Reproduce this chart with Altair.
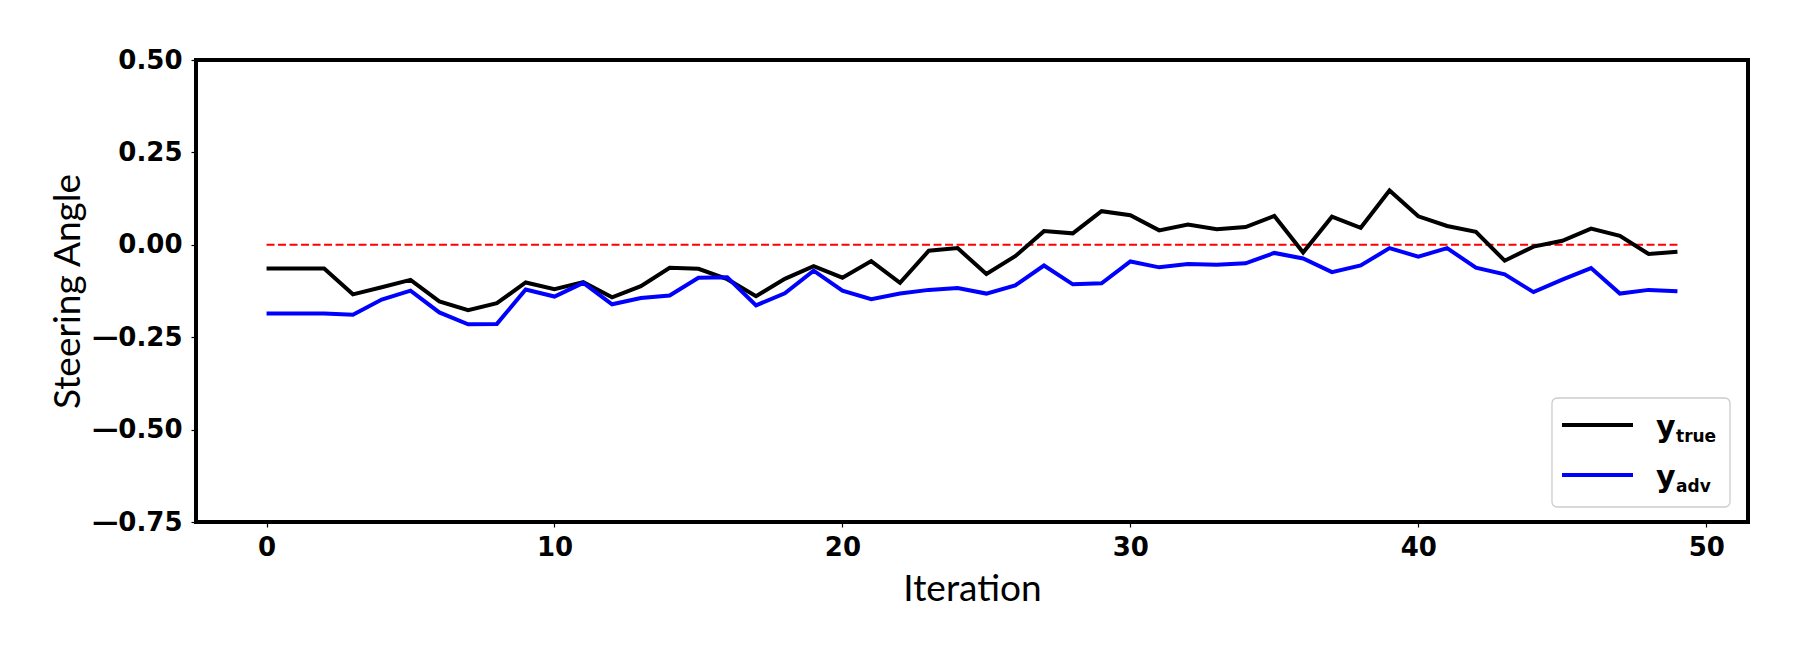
import altair as alt
import pandas as pd

# ---- data ----
iterations = list(range(50))
y_true = [-0.064, -0.064, -0.064, -0.134, -0.115, -0.095, -0.153, -0.177, -0.158, -0.102,
          -0.120, -0.101, -0.142, -0.112, -0.062, -0.065, -0.093, -0.139, -0.092, -0.058,
          -0.089, -0.044, -0.103, -0.016, -0.009, -0.079, -0.031, 0.037, 0.031, 0.091,
          0.080, 0.039, 0.055, 0.042, 0.048, 0.078, -0.021, 0.076, 0.046, 0.147,
          0.077, 0.051, 0.035, -0.043, -0.005, 0.011, 0.044, 0.024, -0.025, -0.019]
y_adv = [-0.186, -0.186, -0.186, -0.189, -0.148, -0.124, -0.183, -0.215, -0.214, -0.121,
         -0.140, -0.103, -0.161, -0.144, -0.137, -0.089, -0.088, -0.164, -0.131, -0.070,
         -0.124, -0.147, -0.132, -0.122, -0.117, -0.132, -0.110, -0.056, -0.107, -0.104,
         -0.045, -0.061, -0.052, -0.054, -0.050, -0.022, -0.037, -0.074, -0.056, -0.009,
         -0.032, -0.009, -0.062, -0.080, -0.128, -0.094, -0.063, -0.132, -0.122, -0.126]
zero_x = [0, 49]
zero_y = [0.0, 0.0]

x_ticks = [0, 10, 20, 30, 40, 50]
y_ticks = [-0.75, -0.5, -0.25, 0.0, 0.25, 0.5]

legend_main = ["y", "y"]
legend_sub = ["true", "adv"]
series_colors = ["black", "blue"]

W, H = 1552, 462

df_true = pd.DataFrame({"Iteration": iterations, "Steering Angle": y_true})
df_adv = pd.DataFrame({"Iteration": iterations, "Steering Angle": y_adv})
df_zero = pd.DataFrame({"Iteration": zero_x, "Steering Angle": zero_y})

xscale = alt.Scale(domain=[-2.45, 51.45], nice=False, zero=False)
yscale = alt.Scale(domain=[-0.75, 0.5], nice=False, zero=False)

label_font = "DejaVu Sans"
title_font = "Lato"

x_axis = alt.Axis(values=x_ticks, format="d", grid=False, domain=False,
                  tickColor="black", tickWidth=1.2, tickSize=5,
                  labelFont=label_font, labelFontSize=26, labelFontWeight="bold",
                  labelColor="black", labelPadding=7,
                  title="Iteration", titleFont=title_font, titleFontSize=37,
                  titleFontWeight="normal", titleColor="black",
                  titleX=W / 2, titleY=78, titleBaseline="alphabetic", titleAlign="center")
y_axis = alt.Axis(values=y_ticks, grid=False, domain=False,
                  tickColor="black", tickWidth=1.2, tickSize=5,
                  labelExpr="datum.value < 0 ? '\u2014' + format(abs(datum.value), '.2f') : format(datum.value, '.2f')",
                  labelFont=label_font, labelFontSize=26, labelFontWeight="bold",
                  labelColor="black", labelPadding=9,
                  title="Steering Angle", titleFont=title_font, titleFontSize=37,
                  titleFontWeight="normal", titleColor="black",
                  titleX=-117, titleY=H / 2, titleBaseline="alphabetic", titleAlign="center",
                  titleAngle=270)

zero_line = alt.Chart(df_zero).mark_line(color="red", strokeWidth=2, strokeDash=[8, 3.5]).encode(
    x=alt.X("Iteration:Q", scale=xscale, axis=x_axis),
    y=alt.Y("Steering Angle:Q", scale=yscale, axis=y_axis),
)
line_true = alt.Chart(df_true).mark_line(color=series_colors[0], strokeWidth=4, strokeJoin="miter").encode(
    x=alt.X("Iteration:Q", scale=xscale),
    y=alt.Y("Steering Angle:Q", scale=yscale),
)
line_adv = alt.Chart(df_adv).mark_line(color=series_colors[1], strokeWidth=4, strokeJoin="miter").encode(
    x=alt.X("Iteration:Q", scale=xscale),
    y=alt.Y("Steering Angle:Q", scale=yscale),
)

# ---- legend (bottom right, inside the frame) ----
leg_df = pd.DataFrame({"main": legend_main, "sub": legend_sub, "color": series_colors})
legend_box = alt.Chart(leg_df.iloc[[0]]).mark_rect(
    fill="white", fillOpacity=0.85, stroke="#cccccc", strokeWidth=1.3, cornerRadius=5
).encode(x=alt.value(1356), x2=alt.value(1534), y=alt.value(338), y2=alt.value(447))

legend_layers = [legend_box]
for i in range(2):
    row = leg_df.iloc[[i]]
    yl = 365 + 50 * i
    legend_layers.append(
        alt.Chart(row).mark_rule(color=series_colors[i], strokeWidth=4).encode(
            x=alt.value(1366), x2=alt.value(1437), y=alt.value(yl))
    )
    legend_layers.append(
        alt.Chart(row).mark_text(font=label_font, fontSize=30, fontWeight="bold", color="black",
                                 align="left", baseline="alphabetic").encode(
            x=alt.value(1460), y=alt.value(yl + 12), text="main:N")
    )
    legend_layers.append(
        alt.Chart(row).mark_text(font=label_font, fontSize=17, fontWeight="bold", color="black",
                                 align="left", baseline="alphabetic").encode(
            x=alt.value(1480), y=alt.value(yl + 17), text="sub:N")
    )

chart = alt.layer(zero_line, line_true, line_adv, *legend_layers).properties(
    width=W, height=H,
    autosize="none",
    padding={"left": 188, "top": 52, "right": 30, "bottom": 90},
    background="white",
).configure_view(stroke="black", strokeWidth=4)

chart.save("out.html", embed_options={"renderer": "svg", "actions": False})
